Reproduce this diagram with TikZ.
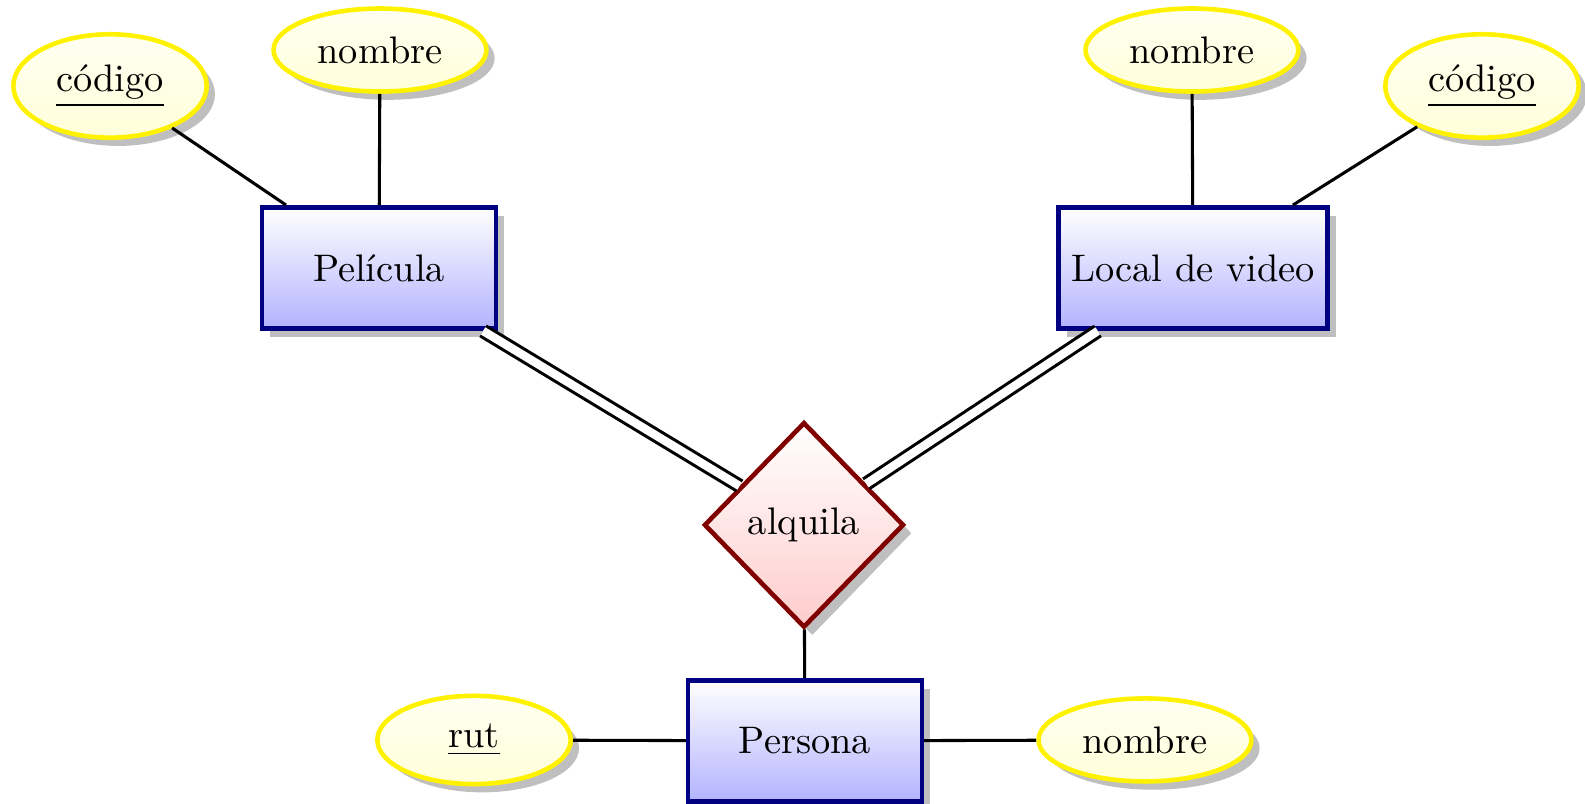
\documentclass[tikz,border=0pt]{standalone}
\usepackage{tikz}
\usetikzlibrary{shapes.geometric,shadows}

\tikzset{
  entity/.style={rectangle, draw=blue!50!black, very thick,
    top color=white, bottom color=blue!30, drop shadow,
    minimum width=2.14cm, minimum height=1.11cm},
  relation/.style={diamond, draw=red!50!black, very thick,
    top color=white, bottom color=red!20, drop shadow,
    minimum width=1.83cm, minimum height=1.88cm},
  attribute/.style={ellipse, draw=yellow, very thick,
    top color=yellow!5, bottom color=yellow!15, drop shadow,
    inner ysep=4pt, minimum width=1.77cm, minimum height=0.76cm},
  total/.style={double, double distance=2.2pt}
}

\begin{document}
\begin{tikzpicture}
  \useasboundingbox (0,0) rectangle (14.508,7.359);
    % entities and relation
    \node[entity] (pel) at (3.469,4.906) {Película};
    \node[entity] (local) at (10.92,4.906) {Local de video};
    \node[entity] (per) at (7.368,0.577) {Persona};
    \node[relation] (alq) at (7.359,2.554) {alquila};
    % attributes
    \node[attribute] (pelcod) at (1.007,6.572) {\underline{código}};
    \node[attribute] (pelnom) at (3.478,6.901) {nombre};
    \node[attribute] (locnom) at (10.91,6.901) {nombre};
    \node[attribute] (loccod) at (13.565,6.572) {\underline{código}};
    \node[attribute] (perrut) at (4.339,0.586) {\underline{rut}};
    \node[attribute] (pernom) at (10.48,0.586) {nombre};
    \path[thick]
      (pelcod) edge (pel)
      (pelnom) edge (pel)
      (locnom) edge (local)
      (loccod) edge (local)
      (perrut) edge (per)
      (pernom) edge (per)
      (alq) edge (per)
      (pel) edge[total] (alq)
      (local) edge[total] (alq);
  \end{tikzpicture}
\end{document}
